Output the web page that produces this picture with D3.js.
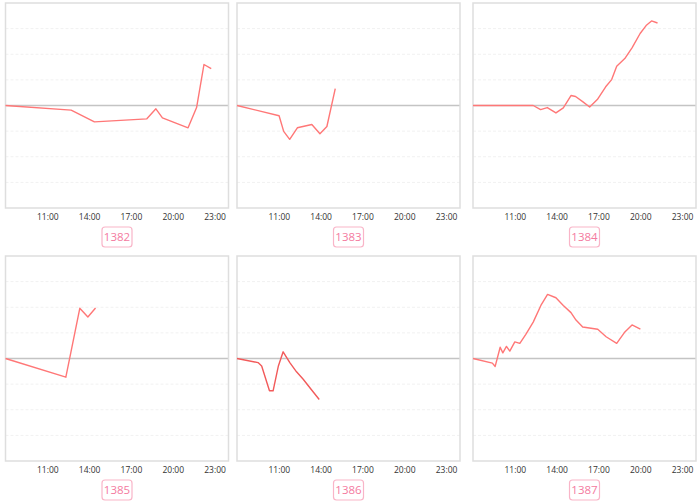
<!DOCTYPE html>
<html><head><meta charset="utf-8">
<script src="https://cdn.jsdelivr.net/npm/d3@7/dist/d3.min.js"></script>
<style>body{margin:0;background:#fff;}svg{display:block;font-family:"Open Sans","DejaVu Sans",sans-serif;}</style>
</head><body>
<svg id="c" width="700" height="503"></svg>
<script>
const codes = ["1382","1383","1384","1385","1386","1387"];
const tickHours = [11, 14, 17, 20, 23];
const tickLabels = ["11:00","14:00","17:00","20:00","23:00"];
const yTicks = [-4,-3,-2,-1,0,1,2,3,4];
// [hour, value]
const s1382 = [[8,0],[12.71,-0.18],[14.38,-0.64],[18.14,-0.52],[18.79,-0.13],[19.26,-0.48],[21.1,-0.87],[21.71,-0.08],[22.24,1.6],[22.76,1.44]];
const s1383 = [[8,0],[11.02,-0.40],[11.35,-1.01],[11.78,-1.32],[12.33,-0.87],[13.37,-0.74],[13.95,-1.10],[14.45,-0.82],[15.05,0.66]];
const s1384 = [[8,0],[12.32,0],[12.85,-0.16],[13.33,-0.08],[13.95,-0.29],[14.48,-0.09],[15.03,0.39],[15.36,0.35],[15.89,0.14],[16.37,-0.06],[16.92,0.23],[17.52,0.73],[17.95,1.01],[18.31,1.53],[18.89,1.83],[19.42,2.26],[19.99,2.81],[20.42,3.12],[20.81,3.30],[21.24,3.22]];
const s1385 = [[8,0],[12.33,-0.73],[13.33,1.96],[13.91,1.62],[14.46,1.97]];
const s1386 = [[8,0],[9.51,-0.16],[9.77,-0.29],[10.33,-1.26],[10.59,-1.26],[10.97,-0.29],[11.31,0.26],[11.79,-0.16],[12.27,-0.52],[12.75,-0.81],[13.30,-1.19],[13.90,-1.60]];
const s1387 = [[8,0],[9.39,-0.18],[9.59,-0.31],[9.95,0.44],[10.14,0.22],[10.40,0.47],[10.64,0.29],[11.0,0.65],[11.36,0.59],[11.79,0.94],[12.32,1.42],[12.87,2.07],[13.35,2.50],[13.95,2.37],[14.48,2.07],[15.03,1.79],[15.39,1.50],[15.87,1.23],[16.95,1.14],[17.55,0.85],[18.31,0.59],[18.86,1.01],[19.41,1.31],[20.01,1.15]];
const seriesList = [s1382,s1383,s1384,s1385,s1386,s1387];
const lineColors = ["#ff7777","#ff7777","#ff7777","#ff7777","#f25a5a","#ff7777"];

const svg = d3.select("#c");
const colLeft = [5.5, 237, 473];
const rowTop = [3, 256];
const W = 223, H = 205;

seriesList.forEach((data, i) => {
  const col = i % 3, row = Math.floor(i / 3);
  const g = svg.append("g").attr("transform", `translate(${colLeft[col]},${rowTop[row]})`);
  const x = d3.scaleLinear().domain([8, 24]).range([0, W]);
  const y = d3.scaleLinear().domain([-4, 4]).range([H, 0]);

  // grid
  g.selectAll("line.grid").data(yTicks.filter(t => t !== 0 && Math.abs(t) !== 4)).join("line")
    .attr("x1", 0).attr("x2", W).attr("y1", d => y(d)).attr("y2", d => y(d))
    .attr("stroke", "#f1f1f1").attr("stroke-width", 1).attr("stroke-dasharray", "3,2");
  g.append("line").attr("x1", 0).attr("x2", W).attr("y1", y(0)).attr("y2", y(0))
    .attr("stroke", "#c4c4c4").attr("stroke-width", 1.3);

  // x axis
  const ax = d3.axisBottom(x).tickValues(tickHours).tickFormat((d, k) => tickLabels[k]).tickSize(0).tickPadding(6);
  const axg = g.append("g").attr("transform", `translate(0,${H})`).call(ax);
  axg.select(".domain").remove();
  axg.selectAll("text").attr("font-size", 8.5).attr("fill", "#333").attr("font-family", "'Open Sans','DejaVu Sans',sans-serif");

  // frame
  g.append("rect").attr("x", 0).attr("y", 0).attr("width", W).attr("height", H)
    .attr("fill", "none").attr("stroke", "#dedede").attr("stroke-width", 1.5);

  // line
  const line = d3.line().x(d => x(d[0])).y(d => y(d[1]));
  g.append("path").datum(data).attr("d", line).attr("fill", "none")
    .attr("stroke", lineColors[i]).attr("stroke-width", 1.4).attr("stroke-linejoin", "round");

  // label box
  const cx = W / 2, cy = H + 29;
  g.append("rect").attr("x", cx - 15).attr("y", cy - 10).attr("width", 30).attr("height", 20)
    .attr("rx", 3).attr("fill", "#fff").attr("stroke", "#f9b5c8").attr("stroke-width", 1.2);
  g.append("text").attr("x", cx).attr("y", cy).attr("dy", "0.35em").attr("text-anchor", "middle")
    .attr("font-size", 11.5).attr("fill", "#f47aa0").text(codes[i]);
});
</script>
</body></html>
